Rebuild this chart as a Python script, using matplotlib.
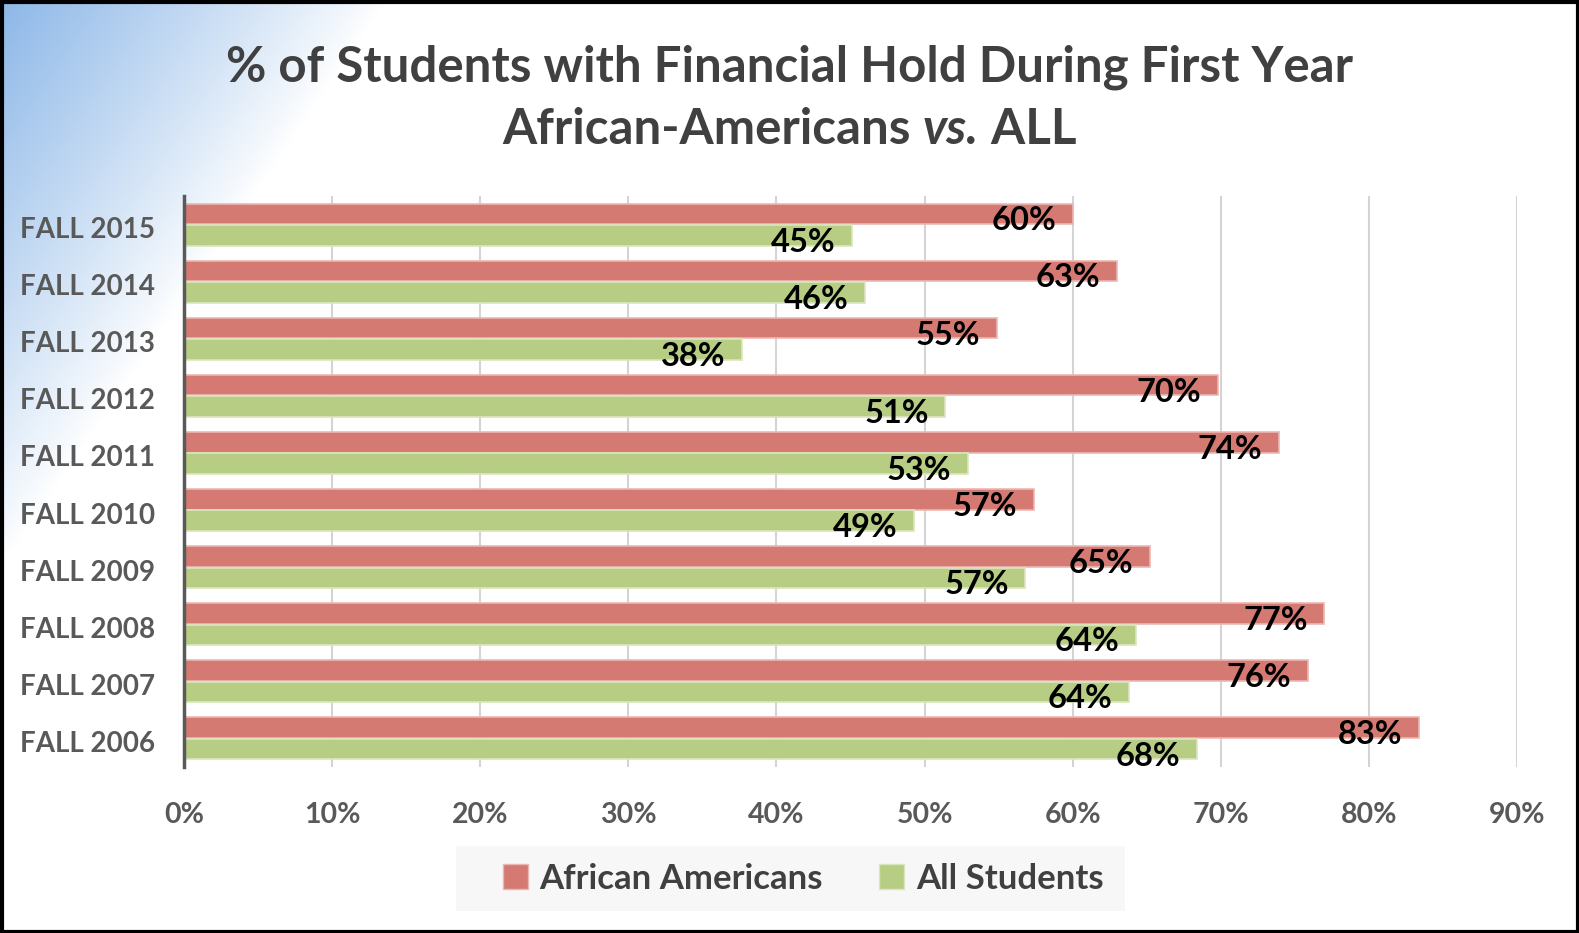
import numpy as np
import matplotlib
matplotlib.use("Agg")
import matplotlib.pyplot as plt
import matplotlib.transforms as mtransforms
from matplotlib.patches import Rectangle, Patch

plt.rcParams['font.family'] = ['Lato', 'DejaVu Sans']

categories = ["FALL 2015", "FALL 2014", "FALL 2013", "FALL 2012", "FALL 2011",
              "FALL 2010", "FALL 2009", "FALL 2008", "FALL 2007", "FALL 2006"]
african_americans = [60.0, 63.0, 54.9, 69.8, 73.9, 57.4, 65.2, 77.0, 75.9, 83.4]
all_students = [45.1, 46.0, 37.7, 51.4, 52.9, 49.3, 56.8, 64.3, 63.8, 68.4]
series_names = ["African Americans", "All Students"]
xticks = [0, 10, 20, 30, 40, 50, 60, 70, 80, 90]

RED = "#D47A72"
GREEN = "#B8CD84"
RED_EDGE = "#EBB7B2"
GREEN_EDGE = "#D9E6BF"
TXT = "#404040"
TICK = "#595959"

W, H = 1579, 933
fig = plt.figure(figsize=(W / 100, H / 100), dpi=100)

# background gradient (top-left blue fading to white)
bg = fig.add_axes([0, 0, 1, 1], zorder=-10)
yy, xx = np.mgrid[0:H, 0:W]
d = (xx * 250 + yy * 170) / np.hypot(250, 170)
a = np.clip(1 - d / 320.0, 0, 1) ** 0.9
img = np.ones((H, W, 4))
img[..., 0] = 0.55
img[..., 1] = 0.72
img[..., 2] = 0.91
img[..., 3] = a
bg.imshow(img, extent=[0, W, H, 0], aspect='auto', interpolation='bilinear')
bg.set_xlim(0, W)
bg.set_ylim(H, 0)
bg.axis('off')
bg.add_patch(Rectangle((1.5, 1.5), W - 3, H - 3, fill=False, edgecolor='black', lw=3))
# legend background box
bg.add_patch(Rectangle((456, 846), 669, 65, facecolor='#F7F7F7', edgecolor='none'))

ax = fig.add_axes([184 / W, 1 - 767 / H, (1517 - 184) / W, (767 - 196) / H])
ax.patch.set_alpha(0)

y = np.arange(len(categories))
bh = 0.36
off = 0.187
rb = ax.barh(y - off, african_americans, height=bh, color=RED, edgecolor=RED_EDGE, lw=1.2, zorder=3)
gb = ax.barh(y + off, all_students, height=bh, color=GREEN, edgecolor=GREEN_EDGE, lw=1.2, zorder=3)

for bars, vals in ((rb, african_americans), (gb, all_students)):
    for b, v in zip(bars, vals):
        ax.annotate(f"{v:.0f}%", xy=(v, b.get_y() + b.get_height() / 2),
                    xytext=(-12, -5), textcoords='offset points',
                    ha='right', va='center', fontsize=23.5, fontweight='bold',
                    color='black', zorder=5)

ax.set_xlim(0, 90)
ax.set_ylim(len(categories) - 0.5, -0.5)
ax.set_xticks(xticks)
ax.set_xticklabels([f"{t}%" for t in xticks])
ax.set_yticks(y)
ax.set_yticklabels(categories)
ax.tick_params(axis='x', length=0, pad=25, labelsize=20.5, labelcolor=TICK)
ax.tick_params(axis='y', length=0, pad=21, labelsize=20, labelcolor=TICK)
shift = mtransforms.ScaledTranslation(0, -3 / 100, fig.dpi_scale_trans)
for lab in ax.get_yticklabels():
    lab.set_transform(lab.get_transform() + shift)
for lab in ax.get_xticklabels() + ax.get_yticklabels():
    lab.set_fontweight('bold')
ax.grid(axis='x', color='#D4D4D4', lw=1.5, zorder=0)
for s in ('top', 'right', 'bottom'):
    ax.spines[s].set_visible(False)
ax.spines['left'].set_color(TICK)
ax.spines['left'].set_linewidth(2.5)
ax.spines['left'].set_zorder(4)

# title
fig.text(0.5, 1 - 67 / H, "% of Students with Financial Hold During First Year",
         ha='center', va='center', fontsize=35.5, fontweight='bold', color=TXT)
parts = [("African-Americans ", 'normal'), ("vs.", 'italic'), (" ALL", 'normal')]
fig.canvas.draw()
r = fig.canvas.get_renderer()
texts = []
for s, st in parts:
    t = fig.text(0, 1 - 129 / H, s, ha='left', va='center', fontsize=35.5,
                 fontweight='bold', fontstyle=st, color=TXT)
    texts.append(t)
widths = [t.get_window_extent(r).width for t in texts]
x0 = (W - sum(widths)) / 2
for t, w in zip(texts, widths):
    t.set_x(x0 / W)
    x0 += w

handles = [Patch(facecolor=RED, edgecolor=RED_EDGE), Patch(facecolor=GREEN, edgecolor=GREEN_EDGE)]
leg = fig.legend(handles, series_names, loc='center', bbox_to_anchor=(803 / W, 1 - 879 / H),
                 ncol=2, fontsize=25, frameon=False, handlelength=0.72, handleheight=0.72,
                 handletextpad=0.35, columnspacing=1.6, borderpad=0.5, borderaxespad=0)
for t in leg.get_texts():
    t.set_color(TXT)
    t.set_fontweight('bold')

fig.savefig("out.png", dpi=100)
